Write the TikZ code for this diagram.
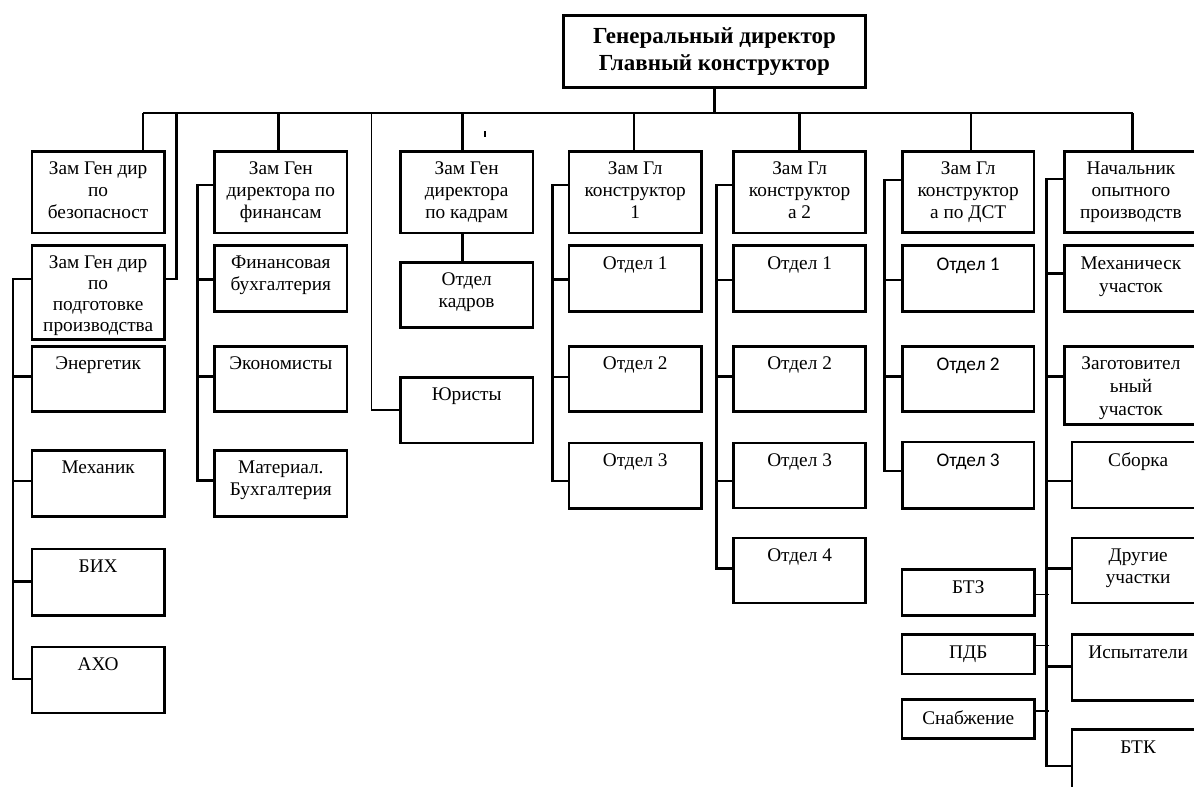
\documentclass[tikz,border=0pt]{standalone}
\usepackage{fontspec}
\setmainfont{Liberation Serif}
\newfontfamily\calfont{Carlito}
\newcommand\mkbox[5]{\node[bx, minimum width={(#4)-(#2)}, minimum height={(#5)-(#3)}] (#1) at (#2,#3) {};}
\newcommand\mktext[3]{\node[tx] (#1t) at ([yshift=-12pt]#1.north) {#3};}
\begin{document}
\begin{tikzpicture}[x=1pt,y=-1pt,
  bx/.style={draw, line width=2.6pt, inner sep=0pt, anchor=north west},
  tx/.style={anchor=north, inner sep=0pt, align=center, font=\fontsize{19.3}{21.7}\selectfont},
  ln/.style={line width=2.5pt},
  lnthin/.style={line width=1.5pt}]
\useasboundingbox (0,0) rectangle (1194,787);
\fill[white] (0,0) rectangle (1194,787);
\clip (0,0) rectangle (1194,787);
% title
\mkbox{gd}{562}{14}{864.3}{86}
\node[inner sep=0pt, align=center, font=\bfseries\fontsize{23}{26.7}\selectfont] (gdt) at (gd.center) {Генеральный директор\\Главный конструктор};
% column A
\mkbox{zb}{30.7}{150}{163}{231.7}
\mktext{zb}{}{Зам Ген дир\\по\\безопасност}
\mkbox{zp}{30.7}{244}{163}{338}
\node[tx, font=\fontsize{19.3}{20.7}\selectfont] (zpt) at ([yshift=-12pt]zp.north) {Зам Ген дир\\по\\подготовке\\производства};
\mkbox{en}{30.7}{345}{163}{410}
\mktext{en}{}{Энергетик}
\mkbox{mex}{30.7}{449}{163}{515}
\mktext{mex}{}{Механик}
\mkbox{bix}{30.7}{547.7}{163}{614}
\mktext{bix}{}{БИХ}
\mkbox{axo}{30.7}{645.7}{163}{711.7}
\mktext{axo}{}{АХО}
% finance
\mkbox{zf}{213.3}{150}{345.7}{231.7}
\mktext{zf}{}{Зам Ген\\директора по\\финансам}
\mkbox{fin}{213.3}{244}{345.7}{310}
\mktext{fin}{}{Финансовая\\бухгалтерия}
\mkbox{eco}{213.3}{345}{345.7}{410}
\mktext{eco}{}{Экономисты}
\mkbox{mat}{213.3}{449}{345.7}{515}
\mktext{mat}{}{Материал.\\Бухгалтерия}
% kadry
\mkbox{zk}{399}{150}{531.7}{231.7}
\mktext{zk}{}{Зам Ген\\директора\\по кадрам}
\mkbox{okd}{399}{261}{531.7}{326}
\mktext{okd}{}{Отдел\\кадров}
\mkbox{jur}{399}{376}{531.7}{441.7}
\mktext{jur}{}{Юристы}
% K1
\mkbox{ka}{567.7}{150}{700}{231.7}
\mktext{ka}{}{Зам Гл\\конструктор\\1}
\mkbox{kaa}{567.7}{244.3}{700}{310}
\mktext{kaa}{}{Отдел 1}
\mkbox{kab}{567.7}{345}{700}{410}
\mktext{kab}{}{Отдел 2}
\mkbox{kac}{567.7}{441.7}{700}{507.3}
\mktext{kac}{}{Отдел 3}
% K2
\mkbox{kb}{732.3}{150}{864.3}{231.7}
\mktext{kb}{}{Зам Гл\\конструктор\\а 2}
\mkbox{kba}{732.3}{244.3}{864.3}{310}
\mktext{kba}{}{Отдел 1}
\mkbox{kbb}{732.3}{345}{864.3}{410}
\mktext{kbb}{}{Отдел 2}
\mkbox{kbc}{732.3}{441.7}{864.3}{506.5}
\mktext{kbc}{}{Отдел 3}
\mkbox{kbd}{732.3}{536.7}{864.3}{601.7}
\mktext{kbd}{}{Отдел 4}
% DST
\mkbox{ds}{901}{150}{1032.7}{231}
\mktext{ds}{}{Зам Гл\\конструктор\\а по ДСТ}
\mkbox{dsa}{901}{244.3}{1032.7}{310}
\node[tx, font=\calfont\fontsize{19.3}{21.7}\selectfont] (dsat) at ([yshift=-13pt]dsa.north) {Отдел 1};
\mkbox{dsb}{901}{345}{1032.7}{410}
\node[tx, font=\calfont\fontsize{19.3}{21.7}\selectfont] (dsbt) at ([yshift=-13pt]dsb.north) {Отдел 2};
\mkbox{dsc}{901}{440.7}{1032.7}{507}
\node[tx, font=\calfont\fontsize{19.3}{21.7}\selectfont] (dsct) at ([yshift=-13pt]dsc.north) {Отдел 3};
\mkbox{btz}{900.7}{568.3}{1033.3}{614}
\mktext{btz}{}{БТЗ}
\mkbox{pdb}{900.7}{633.3}{1033.3}{672.7}
\mktext{pdb}{}{ПДБ}
\mkbox{snb}{900.7}{698.3}{1033.3}{737.3}
\mktext{snb}{}{Снабжение}
% Nach
\mkbox{nc}{1063.3}{150}{1196}{231}
\mktext{nc}{}{Начальник\\опытного\\производств}
\mkbox{mx}{1063.3}{244.3}{1196}{310}
\node[tx, font=\fontsize{19.3}{23}\selectfont] (mxt) at ([yshift=-12pt]mx.north) {Механическ\\участок};
\mkbox{zg}{1063.3}{345}{1196}{423.3}
\node[tx, font=\fontsize{19.3}{23}\selectfont] (zgt) at ([yshift=-12pt]zg.north) {Заготовител\\ьный\\участок};
\mkbox{sb}{1070.7}{440.7}{1203}{506.7}
\mktext{sb}{}{Сборка}
\mkbox{dr}{1070.7}{536.7}{1203}{601.7}
\mktext{dr}{}{Другие\\участки}
\mkbox{isp}{1070.7}{633.3}{1203}{699}
\mktext{isp}{}{Испытатели}
\mkbox{btk}{1070.7}{728.3}{1203}{800}
\mktext{btk}{}{БТК}
% bus
\coordinate (busL) at (143,113);
\coordinate (busR) at (1132.7,113);
\coordinate (tapA) at (176.7,113);
\coordinate (tapF) at (278.3,113);
\coordinate (tapJ) at (371.7,113);
\coordinate (tapK) at (462.3,113);
\coordinate (tapKa) at (634,113);
\coordinate (tapKb) at (799.7,113);
\coordinate (tapD) at (971,113);
\draw[ln] (gd.south) -- (gd.south |- busL);
\draw[ln] (busL) -- (busR);
\draw[ln] (busL) -- (busL |- zb.north);
\draw[ln] (tapA) |- ([yshift=-35pt]zp.north east);
\draw[ln] (tapF) -- (tapF |- zf.north);
\draw[lnthin] (tapJ) |- ([yshift=-34pt]jur.north west);
\draw[ln] (tapK) -- (tapK |- zk.north);
\draw[ln] (tapK |- zk.south) -- (tapK |- okd.north);
\draw[ln] (tapKa) -- (tapKa |- ka.north);
\draw[ln] (tapKb) -- (tapKb |- kb.north);
\draw[ln] (tapD) -- (tapD |- ds.north);
\draw[ln] (busR) -- (busR |- nc.north);
\draw[lnthin] (485,131) -- (485,137);
% column A spine
\draw[line width=2pt] ([yshift=-35pt]zp.north west) -- ++(-18,0) |- ([yshift=-33.6pt]axo.north west);
\draw[ln] ([yshift=-31.7pt]en.north west) -- ++(-18,0);
\draw[ln] ([yshift=-32pt]mex.north west) -- ++(-18,0);
\draw[ln] ([yshift=-34pt]bix.north west) -- ++(-18,0);
% finance spine
\draw[ln] ([yshift=-35pt]zf.north west) -- ++(-15.6,0) |- ([yshift=-31.7pt]mat.north west);
\draw[ln] ([yshift=-35.3pt]fin.north west) -- ++(-15.6,0);
\draw[ln] ([yshift=-31.7pt]eco.north west) -- ++(-15.6,0);
% K1 spine
\draw[ln] ([yshift=-35pt]ka.north west) -- ++(-15,0) |- ([yshift=-39.3pt]kac.north west);
\draw[ln] ([yshift=-35pt]kaa.north west) -- ++(-15,0);
\draw[ln] ([yshift=-32pt]kab.north west) -- ++(-15,0);
% K2 spine
\draw[ln] ([yshift=-35pt]kb.north west) -- ++(-15.6,0) |- ([yshift=-31.6pt]kbd.north west);
\draw[ln] ([yshift=-35.7pt]kba.north west) -- ++(-15.6,0);
\draw[ln] ([yshift=-31.7pt]kbb.north west) -- ++(-15.6,0);
\draw[ln] ([yshift=-39.3pt]kbc.north west) -- ++(-15.6,0);
% DST spine
\draw[ln] ([yshift=-30pt]ds.north west) -- ++(-16.7,0) |- ([yshift=-30.3pt]dsc.north west);
\draw[ln] ([yshift=-35.7pt]dsa.north west) -- ++(-16.7,0);
\draw[ln] ([yshift=-31.7pt]dsb.north west) -- ++(-16.7,0);
% Nach spine
\draw[ln] ([yshift=-29pt]nc.north west) -- ++(-16.6,0) |- ([yshift=-37.7pt]btk.north west);
\draw[ln] ([yshift=-29pt]mx.north west) -- ++(-16.6,0);
\draw[ln] ([yshift=-31.7pt]zg.north west) -- ++(-16.6,0);
\draw[ln] ([yshift=-40.3pt]sb.north west) -- ++(-24,0);
\draw[ln] ([yshift=-31.6pt]dr.north west) -- ++(-24,0);
\draw[ln] ([yshift=-33.4pt]isp.north west) -- ++(-24,0);
\draw[lnthin] ([yshift=-26pt]btz.north east) -- ++(13.4,0);
\draw[lnthin] ([yshift=-12.4pt]pdb.north east) -- ++(13.4,0);
\draw[lnthin] ([yshift=-12.7pt]snb.north east) -- ++(13.4,0);
\end{tikzpicture}
\end{document}
